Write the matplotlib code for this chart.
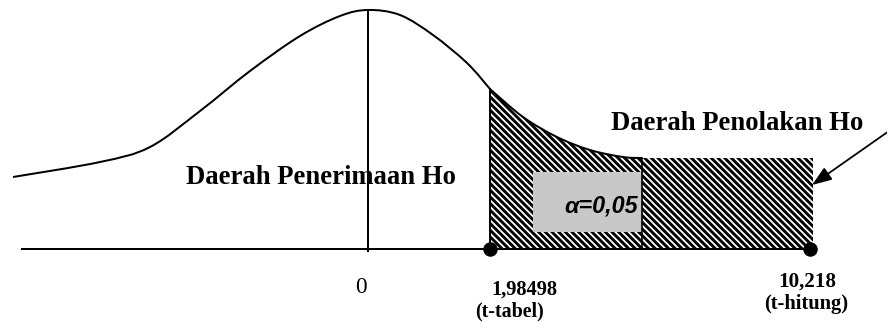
import matplotlib
matplotlib.use("Agg")
import matplotlib.pyplot as plt
import numpy as np
from matplotlib.patches import PathPatch, Rectangle
from matplotlib.path import Path

# diagram canvas in pixel units (x right, y down)
W, H, DPI = 887, 324, 80

# bell curve (left tail -> peak -> t-tabel)
curve_x = [13, 100, 150, 200, 250, 300, 340, 368, 400, 433, 467, 490]
curve_y = [177, 162, 147, 111, 71, 36, 16, 10, 15, 35, 63, 89]
# tail inside the rejection region, then flat top up to t-hitung
tail_x = [490, 523, 557, 590, 623, 642, 813]
tail_y = [89, 117, 137, 150, 157, 158, 158]

baseline_y = 249
baseline_x = [22, 813]
x_zero = 368
x_tabel, x_hitung = 490, 810
alpha_box = (533, 172, 109, 60)   # x, y, w, h
alpha_line_x = 642

serif = "Liberation Serif"
plt.rcParams["hatch.linewidth"] = 2.6


def smooth_path(xs, ys):
    """Catmull-Rom through the points, as cubic Bezier segments."""
    p = np.column_stack([xs, ys]).astype(float)
    p = np.vstack([p[0], p, p[-1]])
    verts, codes = [p[1]], [Path.MOVETO]
    for i in range(1, len(p) - 2):
        c1 = p[i] + (p[i + 1] - p[i - 1]) / 6
        c2 = p[i + 1] - (p[i + 2] - p[i]) / 6
        verts += [c1, c2, p[i + 1]]
        codes += [Path.CURVE4] * 3
    return verts, codes


fig = plt.figure(figsize=(W / DPI, H / DPI), dpi=DPI)
ax = fig.add_axes([0, 0, 1, 1])
ax.set_xlim(0, W)
ax.set_ylim(H, 0)
ax.axis("off")

# rejection region (hatched): smooth tail + flat top, closed along the baseline
tv, tc = smooth_path(tail_x[:-1], tail_y[:-1])
region_v = tv + [(tail_x[-1], tail_y[-1]), (tail_x[-1], baseline_y),
                 (tail_x[0], baseline_y), (tail_x[0], tail_y[0])]
region_c = tc + [Path.LINETO] * 3 + [Path.CLOSEPOLY]
ax.add_patch(PathPatch(Path(region_v, region_c), facecolor="white", edgecolor="black",
                       hatch=chr(92) * 4, linewidth=0, zorder=1))

cv, cc = smooth_path(curve_x, curve_y)
ax.add_patch(PathPatch(Path(cv, cc), fill=False, edgecolor="black", lw=1.8, zorder=3))
ax.add_patch(PathPatch(Path(tv, tc), fill=False, edgecolor="black", lw=1.8, zorder=3))
ax.plot(baseline_x, [baseline_y] * 2, color="black", lw=1.8, zorder=3)
ax.plot([x_zero, x_zero], [min(curve_y), baseline_y + 2], color="black", lw=1.8, zorder=3)
ax.plot([x_tabel, x_tabel], [tail_y[0], baseline_y], color="black", lw=1.8, zorder=3)

# alpha box
bx, by, bw, bh = alpha_box
ax.add_patch(Rectangle((bx, by), bw, bh, facecolor="#c8c8c8", edgecolor="none", zorder=2))
ax.plot([alpha_line_x, alpha_line_x], [tail_y[-2], baseline_y], color="black", lw=1.5, zorder=3)
ax.text(alpha_line_x - 4, 213, "\u03b1=0,05", family="Liberation Sans",
        style="italic", weight="bold", fontsize=21, ha="right", va="baseline", zorder=4)

# end points
ax.plot([x_tabel, x_hitung], [baseline_y] * 2, "o", color="black", ms=12, zorder=5)

# arrow to rejection region
ax.annotate("", xy=(812, 185), xytext=(889, 131),
            arrowprops=dict(arrowstyle="-|>,head_length=1.5,head_width=0.55",
                            color="black", lw=1.6, shrinkA=0, shrinkB=0), zorder=5)

# labels
ax.text(321, 184, "Daerah Penerimaan Ho", family=serif, weight="bold", fontsize=24,
        ha="center", va="baseline")
ax.text(737, 130, "Daerah Penolakan Ho", family=serif, weight="bold", fontsize=24,
        ha="center", va="baseline")
ax.text(361, 293, "0", family=serif, fontsize=21, ha="center", va="baseline")
ax.text(524, 295, "1,98498", family=serif, weight="bold", fontsize=18.5,
        ha="center", va="baseline")
ax.text(510, 316, "(t-tabel)", family=serif, weight="bold", fontsize=18,
        ha="center", va="baseline")
ax.text(807, 287, "10,218", family=serif, weight="bold", fontsize=19,
        ha="center", va="baseline")
ax.text(806, 309, "(t-hitung)", family=serif, weight="bold", fontsize=18.5,
        ha="center", va="baseline")

fig.savefig("out.png", dpi=DPI)
